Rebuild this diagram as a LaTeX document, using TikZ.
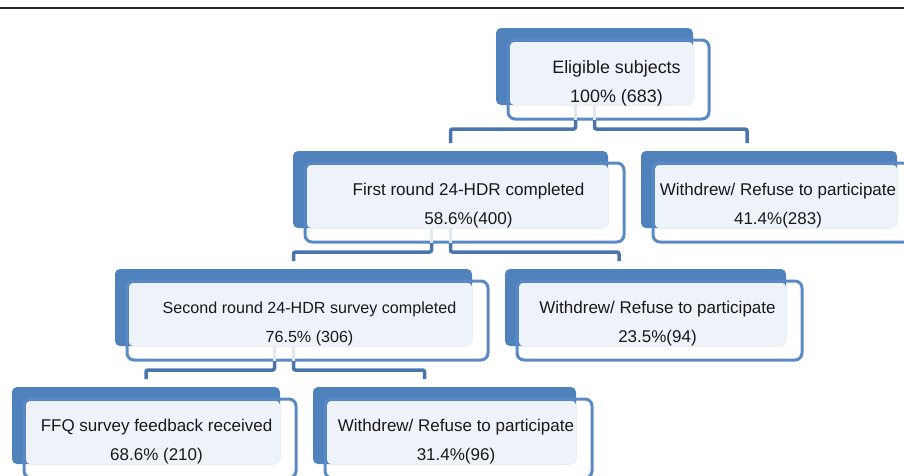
\documentclass[tikz,border=0pt]{standalone}
\usepackage{fontspec}
\setmainfont{Liberation Sans}
\definecolor{boxblue}{HTML}{4F81BD}
\definecolor{rimblue}{HTML}{5A8AC6}
\definecolor{linkblue}{HTML}{4A74AC}
\definecolor{paleblue}{HTML}{EEF2F9}
\definecolor{stubgray}{HTML}{E2E8F2}

\begin{document}
\begin{tikzpicture}
  [x=1pt,y=-1pt,
   back/.style={rectangle, fill=boxblue, rounded corners=5pt, minimum height=77pt, inner sep=0pt, outer sep=0pt},
   txt/.style={align=center, text=black!90, font=\fontsize{#1}{29}\selectfont},
   link/.style={draw=linkblue, line width=3.5pt, rounded corners=2pt},
   stub/.style={draw=stubgray, line width=3.5pt}]
  \useasboundingbox (0,0) rectangle (904,475);
  \draw[black!85, line width=2pt] (0,8) -- (904,8);
  \foreach \n/\c/\w/\s/\dx/\t in {
      elig/{594.5,66.5}/197pt/17.9/22pt/{Eligible subjects\\100\% (683)},
      first/{450.5,189.5}/315pt/17.1/18pt/{First round 24-HDR completed\\58.6\%(400)},
      wd1/{769,189.5}/256pt/17/9pt/{Withdrew/ Refuse to participate\\41.4\%(283)},
      second/{293.5,307.5}/357pt/16.1/16pt/{Second round 24-HDR survey completed\\76.5\% (306)},
      wd2/{645.5,307.5}/281pt/17/12pt/{Withdrew/ Refuse to participate\\23.5\%(94)},
      ffq/{146,425.5}/268pt/17/10.5pt/{FFQ survey feedback received\\68.6\% (210)},
      wd3/{444.5,425.5}/263pt/17/11.5pt/{Withdrew/ Refuse to participate\\31.4\%(96)}}
  {
    \node[back, minimum width=\w] (\n) at (\c) {};
    \fill[paleblue, rounded corners=4pt] ([xshift=14pt,yshift=-14pt]\n.north west) rectangle (\n.south east);
    \draw[rimblue, line width=3pt, rounded corners=7pt] ([xshift=12pt,yshift=-12pt]\n.north west) rectangle ([xshift=16pt,yshift=-14pt]\n.south east);
    \node[txt=\s] (\n-text) at ([xshift=\dx,yshift=-16.5pt]\n.center) {\t};
  }
  \foreach \p/\l/\r/\d in {elig/first/wd1/106pt, first/second/wd2/114pt, second/ffq/wd3/111.5pt}
  {
    \draw[stub] ([xshift=-19pt]\p.south) -- ++(0,15) (\p.south) -- ++(0,15);
    \draw[link] ([xshift=-19pt,yshift=-15pt]\p.south) -- ++(0,9) -| ([yshift=8pt]\l.north);
    \draw[link] ([yshift=-15pt]\p.south) -- ++(0,9) -| ([xshift=\d,yshift=8pt]\r.north west);
  }
\end{tikzpicture}
\end{document}
